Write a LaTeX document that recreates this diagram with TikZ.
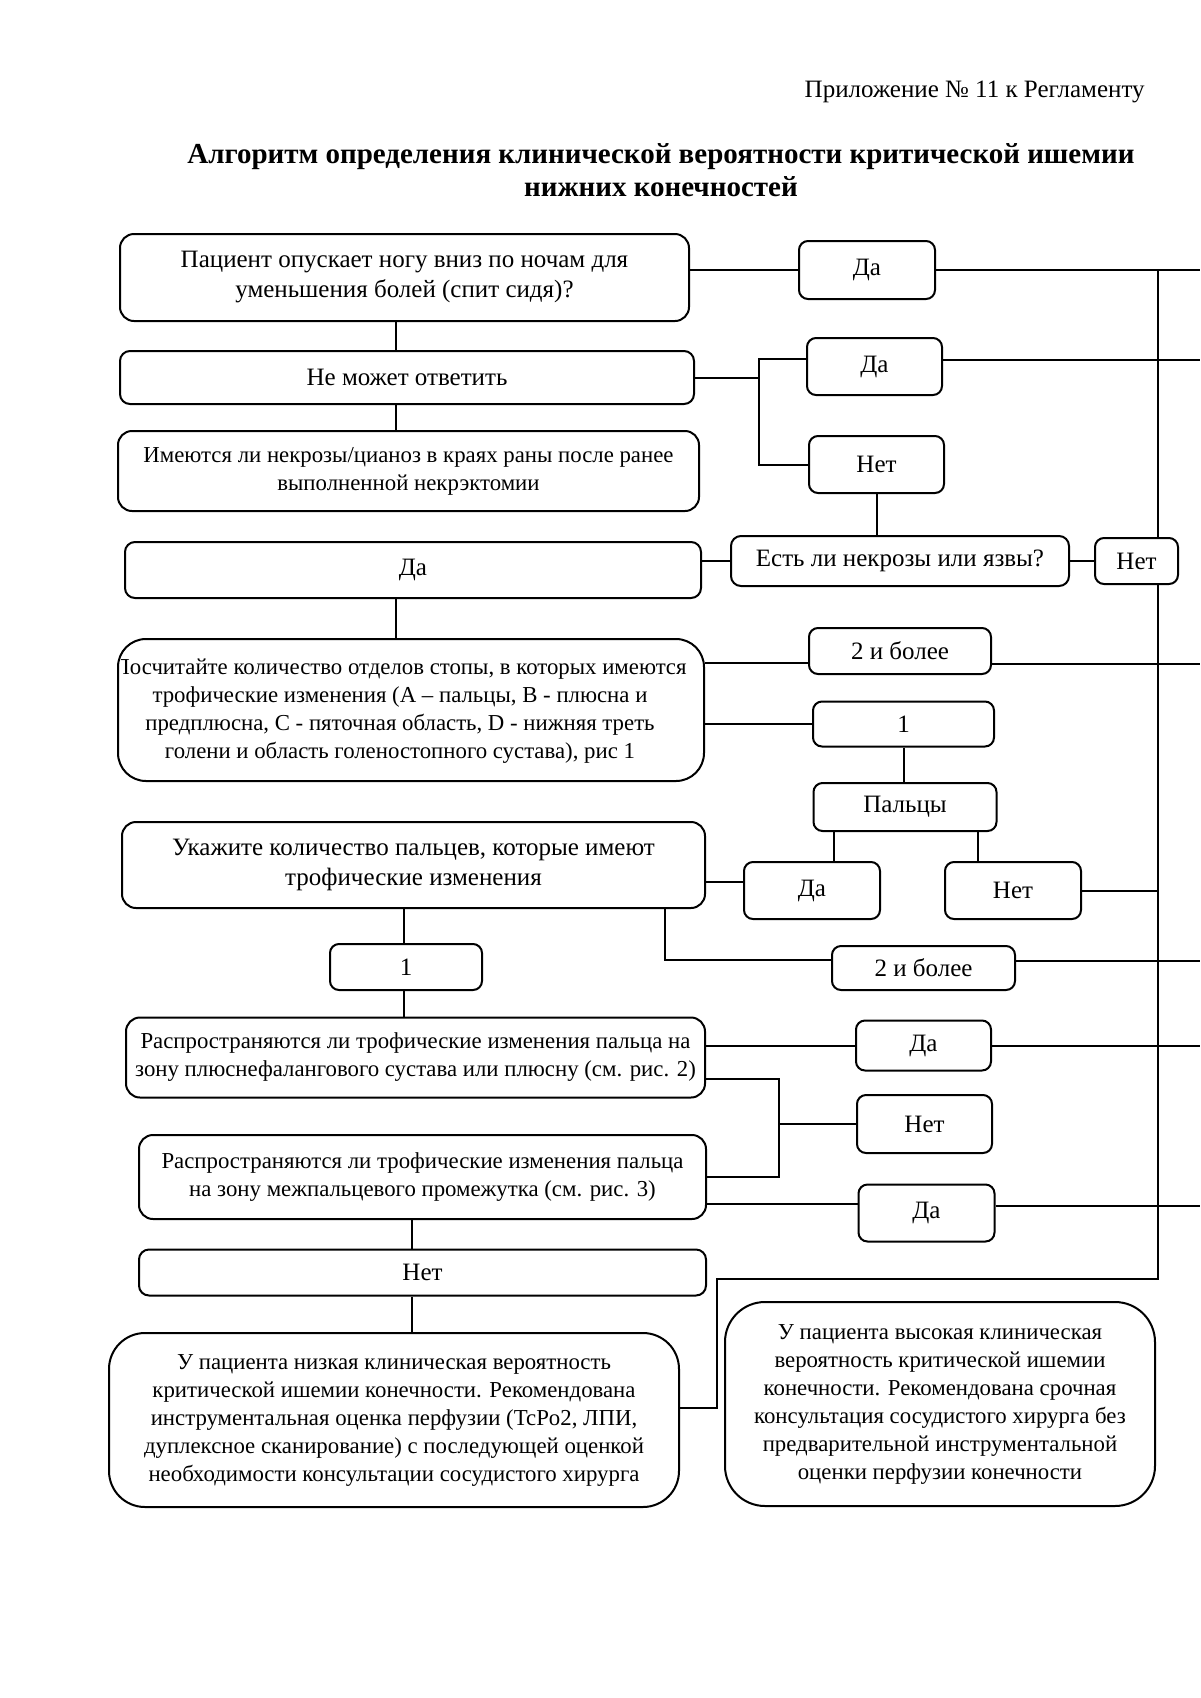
\documentclass[tikz,border=0pt]{standalone}
\usepackage{fontspec}
\setmainfont{Liberation Serif}
\usetikzlibrary{positioning, calc}
\tikzset{
  blk/.style = {draw=black, line width=1pt, fill=white, align=center,
    inner sep=0pt, font=\fontsize{12.5}{15}\selectfont},
  blk_q/.style = {blk, rounded corners=7pt},% question, two lines
  blk_w/.style = {blk, rounded corners=5pt},% wide, one line
  blk_a/.style = {blk, rounded corners=4.5pt},% answer
  blk_r/.style = {blk, rounded corners=18pt},% result
  txt_s/.style = {font=\fontsize{11.4}{14}\selectfont},% long texts
  link/.style = {line width=1pt}
}
\begin{document}
\begin{tikzpicture}[x=0.5pt, y=-0.5pt]
\useasboundingbox (0,0) rectangle (1200,1698);

% headings
\node (annex) [anchor=east, inner sep=0pt, font=\fontsize{12.5}{15}\selectfont] at (1145,92)
  {Приложение № 11 к Регламенту};
\node (title) [align=center, font=\fontsize{14.5}{16.8}\selectfont\bfseries] at (661,170)
  {Алгоритм определения клинической вероятности критической ишемии\\
   нижних конечностей};

% guide lines
\coordinate (edge) at (1200,0);
\coordinate (trunk) at (1158,0);
\coordinate (col_a) at (396,0);
\coordinate (col_b) at (404,0);
\coordinate (col_c) at (412,0);
\coordinate (fork_1) at (759,0);
\coordinate (fork_2) at (779,0);
\coordinate (toe_l) at (834,0);
\coordinate (toe_r) at (978,0);
\coordinate (drop_1) at (665,0);
\coordinate (turn_a) at (717,1279);
\coordinate (turn_b) at (717,1408);

% left column
\node [blk_q, minimum width=284.5pt, minimum height=43.5pt] (q_leg) at (404.5,277.5)
  {Пациент опускает ногу вниз по ночам для\\ уменьшения болей (спит сидя)?};
\node [blk_w, minimum width=287pt, minimum height=26.5pt] (cant) at (407,377.5)
  {Не может ответить};
\node [blk_q, txt_s, minimum width=290.5pt, minimum height=40pt] (necr_cyan) at (408.5,471)
  {Имеются ли некрозы/цианоз в краях раны после ранее\\ выполненной некрэктомии};
\node [blk_w, minimum width=288pt, minimum height=28pt] (da_wide) at (413,570) {Да};
\node [blk, rounded corners=14pt, minimum width=293pt, minimum height=71pt] (cnt) at (411,710) {};
\begin{scope}
  \clip (121,645) rectangle (700,776);
  \node [align=center, txt_s] (cnt_txt) at (400,711)
    {Посчитайте количество отделов стопы, в которых имеются\\
     трофические изменения (А – пальцы, В - плюсна и\\
     предплюсна, С - пяточная область, D - нижняя треть\\
     голени и область голеностопного сустава), рис 1};
\end{scope}
\node [blk_q, minimum width=291.5pt, minimum height=43pt] (which) at (413.5,865)
  {Укажите количество пальцев, которые имеют\\ трофические изменения};
\node [blk_a, minimum width=76pt, minimum height=23pt] (one_2) at (406,967) {1};
\node [blk_q, txt_s, minimum width=289.5pt, minimum height=40pt] (mtp) at (415.5,1057.5)
  {Распространяются ли трофические изменения пальца на\\
   зону плюснефалангового сустава или плюсну (см. рис. 2)};
\node [blk_q, txt_s, minimum width=283.5pt, minimum height=42pt] (web) at (422.5,1177)
  {Распространяются ли трофические изменения пальца\\
   на зону межпальцевого промежутка (см. рис. 3)};
\node [blk_w, minimum width=283.5pt, minimum height=23pt] (net_wide) at (422.5,1272.5) {Нет};
\node [blk_r, txt_s, minimum width=285pt, minimum height=87pt] (low) at (394,1420)
  {У пациента низкая клиническая вероятность\\
   критической ишемии конечности. Рекомендована\\
   инструментальная оценка перфузии (TcPo2, ЛПИ,\\
   дуплексное сканирование) с последующей оценкой\\
   необходимости консультации сосудистого хирурга};

% right column
\node [blk_a, minimum width=68pt, minimum height=29pt] (da_1) at (867,270) {Да};
\node [blk_a, minimum width=67.5pt, minimum height=28.5pt] (da_2) at (874.5,366.5) {Да};
\node [blk_a, minimum width=67.5pt, minimum height=28.5pt] (net_2) at (876.5,464.5) {Нет};
\node [blk_w, minimum width=169pt, minimum height=25pt] (ulcer) at (900,561)
  {Есть ли некрозы или язвы?};
\node [blk_a, minimum width=41.5pt, minimum height=23pt] (net_3) at (1136.5,561) {Нет};
\node [blk_a, minimum width=91pt, minimum height=23pt] (more_1) at (900,651) {2 и более};
\node [blk_a, minimum width=90.5pt, minimum height=22.5pt] (one_1) at (903.5,724) {1};
\node [blk_a, minimum width=91.5pt, minimum height=24pt] (toes) at (905,807) {Пальцы};
\node [blk_a, minimum width=68pt, minimum height=28.5pt] (da_3) at (812,890.5) {Да};
\node [blk_a, minimum width=68pt, minimum height=28.5pt] (net_4) at (1013,890.5) {Нет};
\node [blk_a, minimum width=91.5pt, minimum height=22pt] (more_2) at (923.5,968) {2 и более};
\node [blk_a, minimum width=67.5pt, minimum height=25pt] (da_4) at (923.5,1045.5) {Да};
\node [blk_a, minimum width=67.5pt, minimum height=29pt] (net_5) at (924.5,1124) {Нет};
\node [blk_a, minimum width=68pt, minimum height=28.5pt] (da_5) at (926.5,1213) {Да};
\node [blk, txt_s, rounded corners=20pt, minimum width=215pt, minimum height=102pt] (high) at (940,1404)
  {У пациента высокая клиническая\\
   вероятность критической ишемии\\
   конечности. Рекомендована срочная\\
   консультация сосудистого хирурга без\\
   предварительной инструментальной\\
   оценки перфузии конечности};

% connectors, left column
\draw [link] (q_leg.south -| col_a) -- (cant.north -| col_a);
\draw [link] (cant.south -| col_a) -- (necr_cyan.north -| col_a);
\draw [link] (da_wide.south -| col_a) -- (cnt.north -| col_a);
\draw [link] (which.south -| col_b) -- (one_2.north -| col_b);
\draw [link] (one_2.south -| col_b) -- (mtp.north -| col_b);
\draw [link] (web.south -| col_c) -- (net_wide.north -| col_c);
\draw [link] (net_wide.south -| col_c) -- (low.north -| col_c);

% connectors, to the right
\draw [link] (q_leg.east |- da_1.west) -- (da_1.west);
\draw [link] (da_1.east) -- (da_1.east -| edge);
\draw [link] (cant.east) -- (cant.east -| fork_1);
\draw [link] ([yshift=4pt]da_2.west) -| (fork_1 |- net_2.west) -- (net_2.west);
\draw [link] ([yshift=3.5pt]da_2.east) -- ([yshift=3.5pt]da_2.east -| edge);
\draw [link] (net_2.south) -- (net_2.south |- ulcer.north);
\draw [link] (ulcer.west) -- (ulcer.west -| da_wide.east);
\draw [link] (ulcer.east) -- (net_3.west);
\draw [link] ([yshift=-6pt]more_1.west -| cnt.east) -- ([yshift=-6pt]more_1.west);
\draw [link] ([yshift=-6.5pt]more_1.east) -- ([yshift=-6.5pt]more_1.east -| edge);
\draw [link] (one_1.west -| cnt.east) -- (one_1.west);
\draw [link] (one_1.south) -- (one_1.south |- toes.north);
\draw [link] (toes.south -| toe_l) -- (da_3.north -| toe_l);
\draw [link] (toes.south -| toe_r) -- (net_4.north -| toe_r);
\draw [link] ([yshift=4.5pt]da_3.west -| which.east) -- ([yshift=4.5pt]da_3.west);
\draw [link] (net_4.east) -- (net_4.east -| trunk);
\draw [link] (which.south -| drop_1) |- ([yshift=4pt]more_2.west);
\draw [link] ([yshift=3.5pt]more_2.east) -- ([yshift=3.5pt]more_2.east -| edge);
\draw [link] (da_4.west -| mtp.east) -- (da_4.west);
\draw [link] (da_4.east) -- (da_4.east -| edge);
\draw [link] ([yshift=-10.5pt]mtp.east) -| (fork_2 |- web.east) -- (web.east);
\draw [link] (fork_2 |- net_5.west) -- (net_5.west);
\draw [link] ([yshift=-13.5pt]web.east) -- ([yshift=-13.5pt]web.east -| da_5.west);
\draw [link] ([yshift=3.5pt]da_5.east) -- ([yshift=3.5pt]da_5.east -| edge);

% right trunk
\draw [link] (da_1.east -| trunk) -- (net_3.north -| trunk);
\draw [link] (net_3.south -| trunk) -- (trunk |- turn_a) -- (turn_a) -- (turn_b) -- (turn_b -| low.east);
\end{tikzpicture}
\end{document}
